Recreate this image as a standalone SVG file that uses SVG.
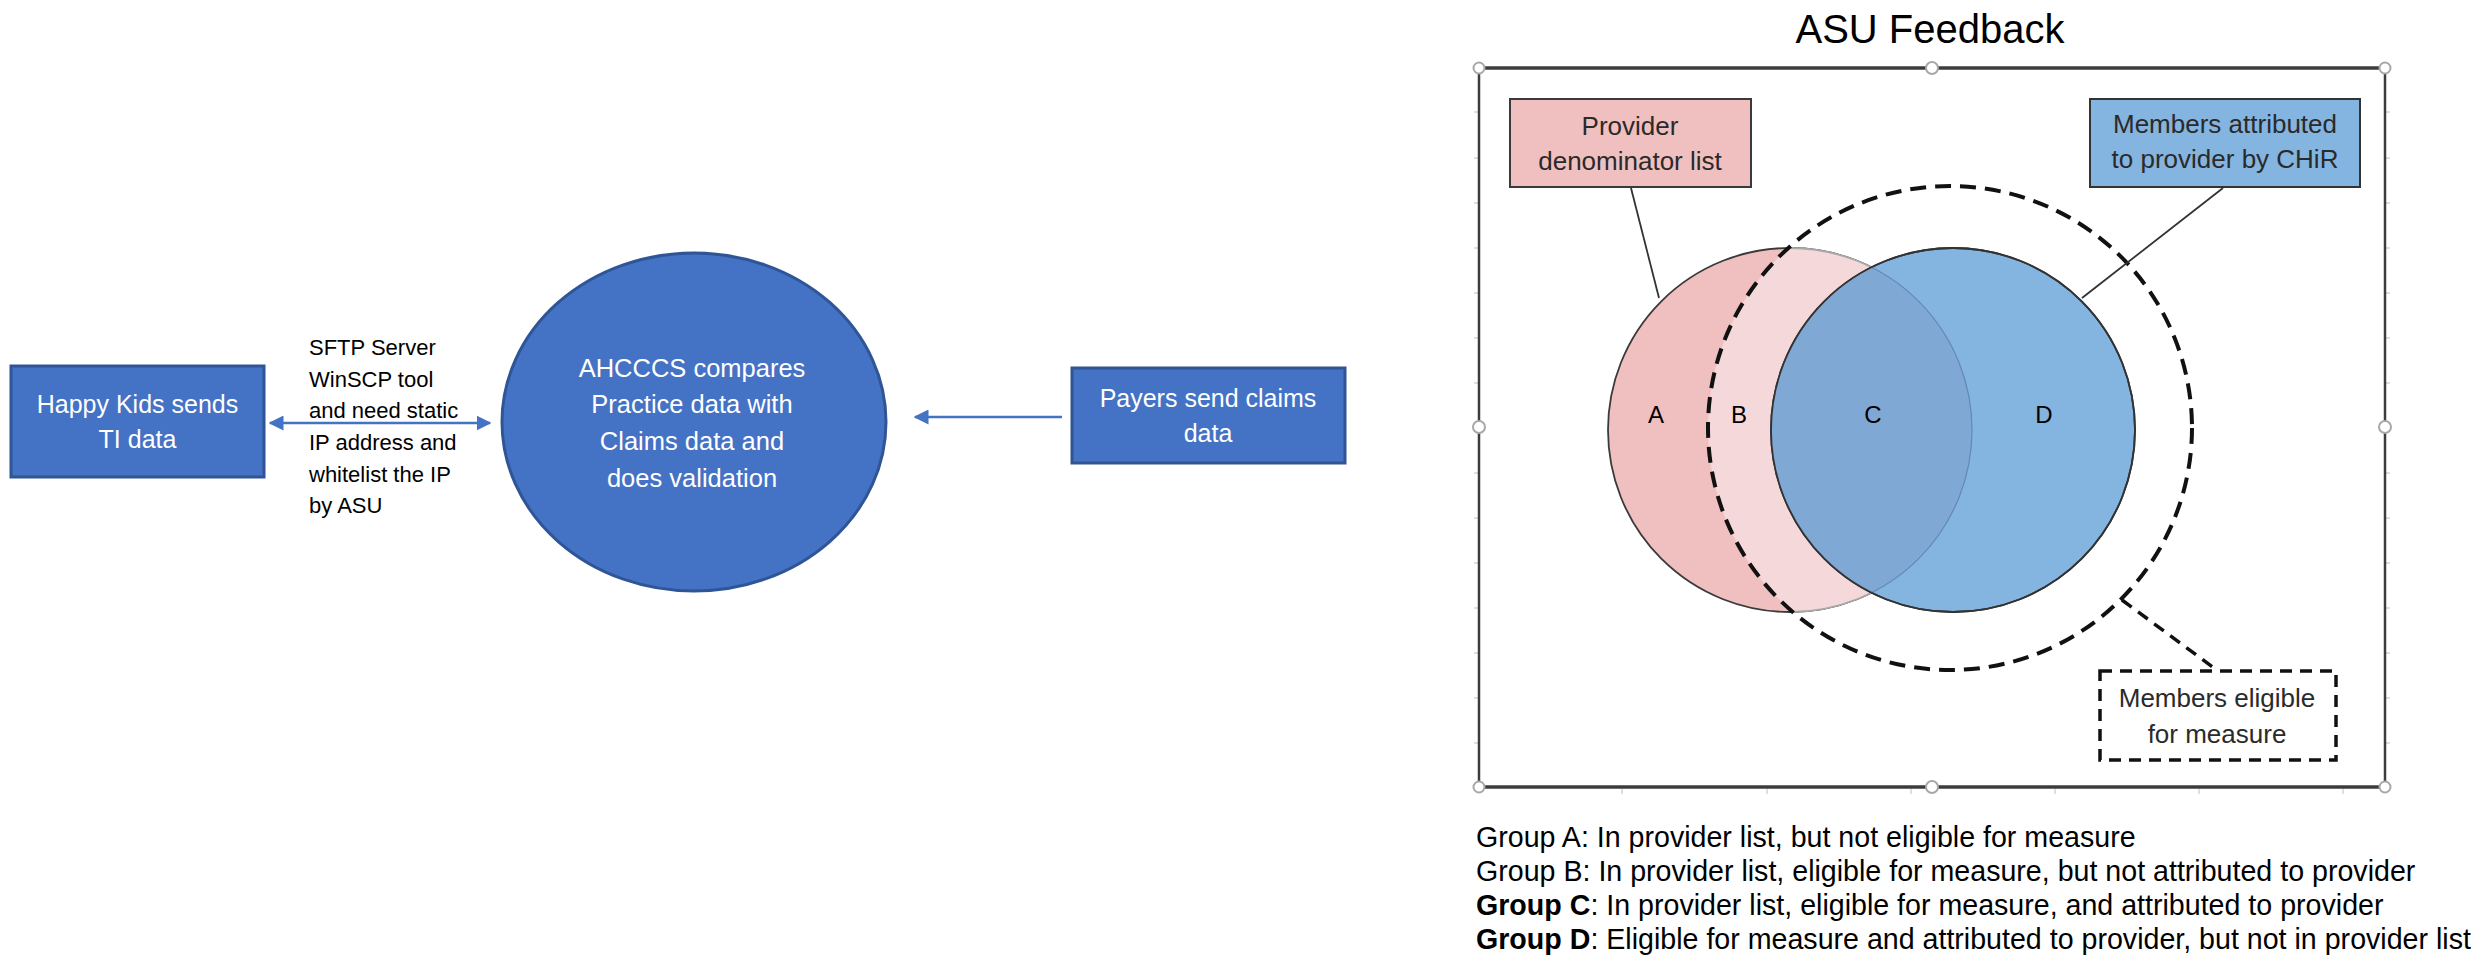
<svg xmlns="http://www.w3.org/2000/svg" width="2486" height="970" viewBox="0 0 2486 970">
<style>
.box{fill:#4472c4;stroke:#2f5597;stroke-width:3}
.wt{font-family:"Liberation Sans",Arial,sans-serif;fill:#ffffff;text-anchor:middle}
.bt{font-family:"Liberation Sans",Arial,sans-serif;fill:#000000}
.vt{font-family:"Liberation Sans",Arial,sans-serif;fill:#2a2a2a;text-anchor:middle;font-size:26px}
.conn{stroke:#4472c4;stroke-width:2.5;fill:none}
.frame{stroke:#3c3c3c;fill:none}
.handle{fill:#ffffff;stroke:#a8a8a8;stroke-width:2}
.dash{fill:none;stroke:#111111;stroke-width:4;stroke-dasharray:16 9}
</style>
<defs>
<marker id="ah" viewBox="0 0 10 10" refX="9" refY="5" markerWidth="6" markerHeight="6" markerUnits="strokeWidth" orient="auto-start-reverse">
<path d="M0,0 L10,5 L0,10 Z" fill="#4472c4"/>
</marker>
<clipPath id="clipDash"><circle cx="1950" cy="428" r="242"/></clipPath>
<clipPath id="clipPink"><circle cx="1790" cy="430" r="182"/></clipPath>
<clipPath id="clipBlue"><circle cx="1953" cy="430" r="182"/></clipPath>
</defs>

<g id="happy-kids">
<rect class="box" x="11" y="366" width="253" height="111"/>
<text class="wt" x="137.5" y="413" font-size="25">Happy Kids sends</text>
<text class="wt" x="137.5" y="448" font-size="25">TI data</text>
</g>

<g id="ahcccs">
<ellipse class="box" cx="694" cy="422" rx="192" ry="169" stroke-width="2"/>
<text class="wt" x="692" y="377" font-size="25.5">AHCCCS compares</text>
<text class="wt" x="692" y="413" font-size="25.5">Practice data with</text>
<text class="wt" x="692" y="450" font-size="25.5">Claims data and</text>
<text class="wt" x="692" y="487" font-size="25.5">does validation</text>
</g>

<g id="payers">
<rect class="box" x="1072" y="368" width="273" height="95"/>
<text class="wt" x="1208" y="407" font-size="25">Payers send claims</text>
<text class="wt" x="1208" y="442" font-size="25">data</text>
</g>

<g id="connectors">
<line class="conn" x1="270" y1="423" x2="490" y2="423" marker-start="url(#ah)" marker-end="url(#ah)"/>
<line class="conn" x1="1062" y1="417" x2="915" y2="417" marker-end="url(#ah)"/>
</g>

<g id="sftp-label">
<text class="bt" font-size="22"><tspan x="309" y="355">SFTP Server</tspan><tspan x="309" y="387">WinSCP tool</tspan><tspan x="309" y="418">and need static</tspan><tspan x="309" y="450">IP address and</tspan><tspan x="309" y="482">whitelist the IP</tspan><tspan x="309" y="513">by ASU</tspan></text>
</g>

<g id="asu-title">
<text class="bt" x="1930" y="43" font-size="40" text-anchor="middle">ASU Feedback</text>
</g>

<g id="frame">
<path d="M1474,112h4M1474,158h4M1474,203h4M1474,248h4M1474,293h4M1474,338h4M1474,383h4M1474,473h4M1474,518h4M1474,563h4M1474,608h4M1474,653h4M1474,698h4M1474,743h4M2386,112h4M2386,158h4M2386,203h4M2386,248h4M2386,293h4M2386,338h4M2386,383h4M2386,473h4M2386,518h4M2386,563h4M2386,608h4M2386,653h4M2386,698h4M2386,743h4M1622,789v5M1767,789v5M1911,789v5M2055,789v5M2199,789v5M2343,789v5" stroke="#d4d4d4" stroke-width="1.5" fill="none"/>
<rect x="1479" y="68" width="906" height="719" fill="#ffffff" stroke="none"/>
<line class="frame" x1="1483" y1="68" x2="2381" y2="68" stroke-width="3.5"/>
<line class="frame" x1="1483" y1="787" x2="2381" y2="787" stroke-width="3.5"/>
<line class="frame" x1="1479" y1="73" x2="1479" y2="782" stroke-width="2.5"/>
<line class="frame" x1="2385" y1="73" x2="2385" y2="782" stroke-width="2.5"/>
<circle class="handle" cx="1479" cy="68" r="5.5"/>
<circle class="handle" cx="2385" cy="68" r="5.5"/>
<circle class="handle" cx="1479" cy="787" r="5.5"/>
<circle class="handle" cx="2385" cy="787" r="5.5"/>
<circle class="handle" cx="1932" cy="68" r="6"/>
<circle class="handle" cx="1932" cy="787" r="6"/>
<circle class="handle" cx="1479" cy="427" r="6"/>
<circle class="handle" cx="2385" cy="427" r="6"/>
</g>

<g id="venn">
<circle cx="1790" cy="430" r="182" fill="#f0bfbf" stroke="#3a3a3a" stroke-width="1.8"/>
<circle cx="1790" cy="430" r="182" fill="#f5d8d9" stroke="#a8a8a8" stroke-width="1.8" clip-path="url(#clipDash)"/>
<circle cx="1953" cy="430" r="182" fill="#84b4e0" stroke="#333333" stroke-width="1.8"/>
<circle cx="1953" cy="430" r="182" fill="#7fa8d5" stroke="none" clip-path="url(#clipPink)"/>
<circle cx="1790" cy="430" r="182" fill="none" stroke="#6288b8" stroke-width="1.2" clip-path="url(#clipBlue)"/>
<circle cx="1953" cy="430" r="182" fill="none" stroke="#333333" stroke-width="1.8"/>
<circle class="dash" cx="1950" cy="428" r="242"/>
<text class="bt" x="1656" y="423" font-size="24" text-anchor="middle" fill="#222">A</text>
<text class="bt" x="1739" y="423" font-size="24" text-anchor="middle" fill="#222">B</text>
<text class="bt" x="1873" y="423" font-size="24" text-anchor="middle" fill="#222">C</text>
<text class="bt" x="2044" y="423" font-size="24" text-anchor="middle" fill="#222">D</text>
</g>

<g id="provider-list">
<rect x="1510" y="99" width="241" height="88" fill="#f0bfbf" stroke="#3a3a3a" stroke-width="2"/>
<text class="vt" x="1630" y="135">Provider</text>
<text class="vt" x="1630" y="170">denominator list</text>
<line x1="1631" y1="188" x2="1659" y2="298" stroke="#333" stroke-width="1.8"/>
</g>

<g id="members-attributed">
<rect x="2090" y="99" width="270" height="88" fill="#84b4e0" stroke="#333333" stroke-width="2"/>
<text class="vt" x="2225" y="133">Members attributed</text>
<text class="vt" x="2225" y="168">to provider by CHiR</text>
<line x1="2223" y1="188" x2="2082" y2="298" stroke="#333" stroke-width="1.8"/>
</g>

<g id="members-eligible">
<rect x="2100" y="671" width="236" height="89" fill="#ffffff" stroke="#111" stroke-width="3.5" stroke-dasharray="12 8"/>
<text class="vt" x="2217" y="707">Members eligible</text>
<text class="vt" x="2217" y="743">for measure</text>
<path d="M2122,600 L2218,671" fill="none" stroke="#111" stroke-width="3.5" stroke-dasharray="12 8"/>
</g>

<g id="legend">
<text class="bt" font-size="28.6"><tspan x="1476" y="847">Group A: In provider list, but not eligible for measure</tspan><tspan x="1476" y="881">Group B: In provider list, eligible for measure, but not attributed to provider</tspan><tspan x="1476" y="915"><tspan font-weight="bold">Group C</tspan>: In provider list, eligible for measure, and attributed to provider</tspan><tspan x="1476" y="949"><tspan font-weight="bold">Group D</tspan>: Eligible for measure and attributed to provider, but not in provider list</tspan></text>
</g>
</svg>
